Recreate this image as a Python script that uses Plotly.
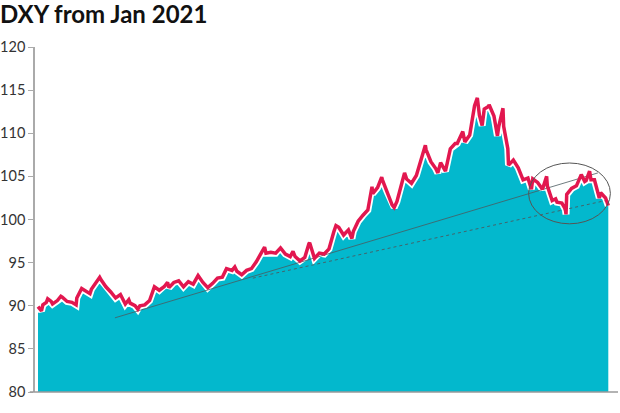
import plotly.graph_objects as go

# DXY readings (date, index level)
dates = [
    "2021-01-01","2021-01-06","2021-01-08","2021-01-13","2021-01-15","2021-01-20","2021-01-22","2021-01-29",
    "2021-02-03","2021-02-05","2021-02-12","2021-02-19","2021-02-25","2021-02-26","2021-03-05","2021-03-12",
    "2021-03-17","2021-03-19","2021-03-26","2021-03-31","2021-04-02","2021-04-09","2021-04-16","2021-04-23",
    "2021-04-30","2021-05-07","2021-05-12","2021-05-14","2021-05-21","2021-05-25","2021-05-28","2021-06-04",
    "2021-06-11","2021-06-18","2021-06-25","2021-07-02","2021-07-07","2021-07-09","2021-07-16","2021-07-23",
    "2021-07-30","2021-08-06","2021-08-13","2021-08-20","2021-08-27","2021-09-03","2021-09-10","2021-09-17",
    "2021-09-24","2021-09-30","2021-10-08","2021-10-12","2021-10-15","2021-10-22","2021-10-29","2021-11-05",
    "2021-11-12","2021-11-19","2021-11-24","2021-11-26","2021-12-03","2021-12-10","2021-12-15","2021-12-17",
    "2021-12-24","2021-12-31","2022-01-04","2022-01-07","2022-01-14","2022-01-21","2022-01-27","2022-01-28",
    "2022-02-04","2022-02-11","2022-02-18","2022-02-25","2022-03-04","2022-03-07","2022-03-11","2022-03-18",
    "2022-03-25","2022-03-30","2022-04-01","2022-04-08","2022-04-15","2022-04-22","2022-04-28","2022-04-29",
    "2022-05-06","2022-05-12","2022-05-13","2022-05-20","2022-05-27","2022-05-30","2022-06-03","2022-06-10",
    "2022-06-14","2022-06-17","2022-06-24","2022-07-01","2022-07-08","2022-07-14","2022-07-15","2022-07-22",
    "2022-07-29","2022-08-01","2022-08-05","2022-08-12","2022-08-19","2022-08-26","2022-08-29","2022-09-02",
    "2022-09-06","2022-09-09","2022-09-16","2022-09-23","2022-09-27","2022-09-30","2022-10-04","2022-10-07",
    "2022-10-13","2022-10-14","2022-10-21","2022-10-26","2022-10-28","2022-11-03","2022-11-04","2022-11-10",
    "2022-11-11","2022-11-18","2022-11-25","2022-12-02","2022-12-09","2022-12-14","2022-12-16","2022-12-23",
    "2022-12-30","2023-01-05","2023-01-06","2023-01-13","2023-01-18","2023-01-20","2023-01-27","2023-02-01",
    "2023-02-02","2023-02-03","2023-02-10","2023-02-17","2023-02-24","2023-03-01","2023-03-03","2023-03-08",
    "2023-03-10","2023-03-15","2023-03-17","2023-03-22","2023-03-24","2023-03-31","2023-04-04",
]
dxy = [
    89.9, 89.4, 90.1, 90.4, 90.8, 90.5, 90.2, 90.6,
    91.1, 91.0, 90.5, 90.4, 90.1, 90.9, 92.0, 91.7,
    91.4, 91.9, 92.8, 93.3, 93.0, 92.2, 91.6, 90.9,
    91.3, 90.2, 90.7, 90.3, 90.0, 89.6, 90.0, 90.1,
    90.6, 92.2, 91.8, 92.2, 92.7, 92.1, 92.7, 92.9,
    92.2, 92.8, 92.5, 93.5, 92.7, 92.1, 92.6, 93.2,
    93.3, 94.3, 94.1, 94.5, 94.0, 93.6, 94.1, 94.3,
    95.1, 96.0, 96.8, 96.1, 96.2, 96.1, 96.6, 96.7,
    96.0, 95.7, 96.3, 95.7, 95.2, 95.6, 97.2, 97.3,
    95.5, 96.1, 96.0, 96.6, 98.6, 99.3, 99.1, 98.2,
    98.8, 97.8, 98.6, 99.8, 100.5, 101.1, 103.8, 103.0,
    103.7, 104.9, 104.6, 103.2, 101.7, 101.4, 102.1, 104.2,
    105.4, 104.7, 104.2, 105.1, 106.9, 108.6, 108.1, 106.7,
    105.9, 105.4, 106.6, 105.6, 108.2, 108.8, 108.8, 109.5,
    110.2, 109.0, 109.8, 113.2, 114.1, 112.1, 110.9, 112.8,
    113.1, 113.3, 112.0, 109.7, 110.8, 112.9, 110.8, 108.2,
    106.3, 106.9, 106.0, 104.6, 104.8, 103.5, 104.7, 104.3,
    103.5, 105.0, 103.9, 102.2, 102.4, 102.0, 101.9, 101.2,
    100.6, 102.9, 103.6, 103.9, 105.2, 104.4, 104.5, 105.6,
    104.6, 104.6, 103.9, 102.5, 103.1, 102.5, 101.6,
]

# Hand-drawn trend lines and circled region (annotation elements)
upper_trend_dates = ["2021-04-22", "2023-03-20"]
upper_trend_vals = [88.6, 105.4]
lower_trend_dates = ["2021-11-07", "2023-04-06"]
lower_trend_vals = [93.2, 102.3]
circle_dates = ["2022-12-10", "2023-04-07"]
circle_vals = [99.5, 106.55]

y_ticks = [80, 85, 90, 95, 100, 105, 110, 115, 120]
x_range = ["2020-12-27 16:00", "2023-04-18"]
y_range = [80, 120]

TEAL = "#03B8CD"
RED = "#E2174F"

fig = go.Figure()
fig.add_trace(go.Scatter(
    x=dates, y=dxy, mode="lines", fill="tozeroy", fillcolor=TEAL,
    line=dict(color="white", width=7), hoverinfo="skip", showlegend=False,
))
fig.add_trace(go.Scatter(
    x=upper_trend_dates, y=upper_trend_vals, mode="lines",
    line=dict(color="#4a5a60", width=0.8), showlegend=False,
))
fig.add_trace(go.Scatter(
    x=lower_trend_dates, y=lower_trend_vals, mode="lines",
    line=dict(color="#4a5a60", width=0.9, dash="dot"), showlegend=False,
))
fig.add_trace(go.Scatter(
    x=dates, y=dxy, mode="lines",
    line=dict(color=RED, width=3.5), showlegend=False,
))

fig.add_shape(type="circle", xref="x", yref="y",
              x0=circle_dates[0], x1=circle_dates[1],
              y0=circle_vals[0], y1=circle_vals[1],
              line=dict(color="#555", width=1))
# bottom baseline slightly extending past y axis
fig.add_shape(type="line", xref="paper", yref="paper", x0=-0.009, x1=1, y0=0, y1=0,
              line=dict(color="#9a9a9a", width=1.5), layer="above")

fig.update_layout(
    width=620, height=413,
    margin=dict(l=35, r=2, t=47, b=21),
    paper_bgcolor="white", plot_bgcolor="white",
    title=dict(text="<b>DXY from Jan 2021</b>", x=0.0, xanchor="left", xref="container",
               y=0.965, yanchor="middle",
               font=dict(family="Lato", size=24, color="#111")),
    xaxis=dict(range=x_range, type="date", showticklabels=False, ticks="",
               showgrid=False, zeroline=False, showline=False, automargin=False),
    yaxis=dict(range=y_range, tickvals=y_ticks, ticks="outside", ticklen=5,
               tickcolor="#aaa", tickwidth=1, showline=True, linecolor="#aaa",
               linewidth=1.5, showgrid=False, zeroline=False, automargin=False,
               tickfont=dict(family="Lato", size=14.5, color="#333")),
    font=dict(family="Lato"),
)

fig.write_html("out.html", config={"displayModeBar": False},
               post_script="document.body.style.margin='0';document.body.style.padding='0';")
